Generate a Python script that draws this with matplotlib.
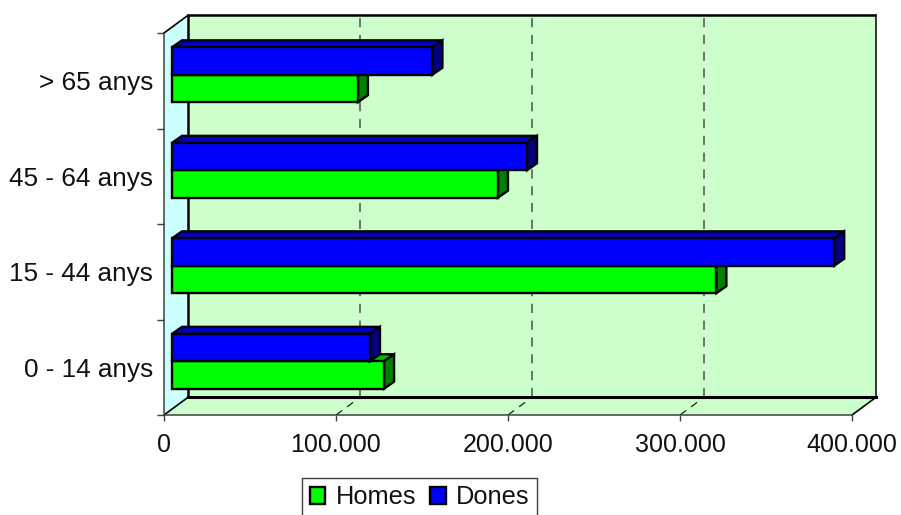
import matplotlib
matplotlib.use("Agg")
import matplotlib.pyplot as plt
from matplotlib.patches import Polygon, Patch
from matplotlib.transforms import Affine2D

categories = ["0 - 14 anys", "15 - 44 anys", "45 - 64 anys", "> 65 anys"]
homes = [123300, 316500, 189500, 108100]
dones = [115100, 385000, 206400, 151400]
x_ticks = [0, 100000, 200000, 300000, 400000]
x_labels = ["0", "100.000", "200.000", "300.000", "400.000"]

plt.rcParams["font.family"] = ["Liberation Sans", "DejaVu Sans"]
W, H = 901, 515
fig = plt.figure(figsize=(W / 100, H / 100), dpi=100, facecolor="white")
ax = fig.add_axes([164 / W, (H - 415) / H, 688 / W, 382 / H])
ax.set_xlim(0, 400000)
ax.set_ylim(0, 4)
ax.patch.set_visible(False)

XMAX, YMAX = 400000, 4
base = ax.transData


def shift(dx, dy):
    return base + Affine2D().translate(dx, dy)


WALL = (24, 17.7)
back = shift(*WALL)
INK = "#000000"
GRAY = "#404040"

# walls and floor
ax.add_patch(Polygon([(0, 0), (XMAX, 0), (XMAX, YMAX), (0, YMAX)], closed=True,
                     transform=back, fc="#CCFFCC", ec="none", clip_on=False, zorder=1))
side = [base.transform((0, 0)), base.transform((0, YMAX)),
        back.transform((0, YMAX)), back.transform((0, 0))]
ax.add_patch(Polygon(side, closed=True, transform=None, fc="#CCFFFF", ec="none",
                     clip_on=False, zorder=1))
floor = [base.transform((0, 0)), base.transform((XMAX, 0)),
         back.transform((XMAX, 0)), back.transform((0, 0))]
ax.add_patch(Polygon(floor, closed=True, transform=None, fc="#CCFFCC", ec="none",
                     clip_on=False, zorder=1))

# gridlines
for v in x_ticks[1:-1]:
    ax.plot([v, v], [0, YMAX], transform=back, color="#505050", lw=1.1,
            ls=(0, (6, 5)), clip_on=False, zorder=2)
    p0, p1 = base.transform((v, 0)), back.transform((v, 0))
    ax.plot([p0[0], p1[0]], [p0[1], p1[1]], transform=None, color="#202020", lw=0.9,
            ls=(0, (6, 5)), clip_on=False, zorder=2)

# wall outlines
ax.plot([0, 0, XMAX], [0, YMAX, YMAX], transform=back, color=INK, lw=1.8,
        clip_on=False, zorder=3, solid_joinstyle="miter", solid_capstyle="butt")
ax.plot([0, XMAX], [0, 0], transform=back, color=INK, lw=2.2, clip_on=False, zorder=3)
ax.plot([XMAX, XMAX], [0, YMAX], transform=back, color=INK, lw=1.1, clip_on=False, zorder=3)
for yv, xv in [(0, 0), (YMAX, 0), (0, XMAX)]:
    p0, p1 = base.transform((xv, yv)), back.transform((xv, yv))
    ax.plot([p0[0], p1[0]], [p0[1], p1[1]], transform=None, color=INK, lw=1.2,
            clip_on=False, zorder=3)

# 3-D bars
FRONT = (8, 6)
DEPTH = (10, 7)
BAR_H = 0.287
GAP = (1 - 2 * BAR_H) / 2


def bar3d(y0, v, front_c, top_c, side_c, z):
    y1 = y0 + BAR_H
    ft = shift(*FRONT)
    bk = shift(FRONT[0] + DEPTH[0], FRONT[1] + DEPTH[1])
    pt = lambda tr, xv, yv: tr.transform((xv, yv))
    style = dict(transform=None, ec=INK, lw=1.7, clip_on=False, zorder=z, joinstyle="miter")
    ax.add_patch(Polygon([pt(ft, 0, y1), pt(ft, v, y1), pt(bk, v, y1), pt(bk, 0, y1)],
                         closed=True, fc=top_c, **style))
    ax.add_patch(Polygon([pt(ft, v, y0), pt(ft, v, y1), pt(bk, v, y1), pt(bk, v, y0)],
                         closed=True, fc=side_c, **style))
    ax.add_patch(Polygon([pt(ft, 0, y0), pt(ft, v, y0), pt(ft, v, y1), pt(ft, 0, y1)],
                         closed=True, fc=front_c, **style))


z = 5
for i in range(len(categories)):
    bar3d(i + GAP, homes[i], "#00FF00", "#00C000", "#008000", z)
    bar3d(i + GAP + BAR_H, dones[i], "#0000FF", "#0000C0", "#000080", z + 1)
    z += 2

# axes
for s in ["top", "right"]:
    ax.spines[s].set_visible(False)
for s in ["left", "bottom"]:
    ax.spines[s].set_color(GRAY)
    ax.spines[s].set_linewidth(1.1)
    ax.spines[s].set_zorder(4)

ax.set_xticks(x_ticks)
ax.set_xticklabels(x_labels, fontsize=18, color="#111111")
ax.set_yticks(range(5))
ax.set_yticklabels([])
ax.set_yticks([i + 0.5 for i in range(4)], minor=True)
ax.set_yticklabels(categories, minor=True, fontsize=18.8, color="#111111")
ax.tick_params(axis="x", length=4.5, width=1, color=GRAY, pad=8.5)
ax.tick_params(axis="y", which="major", length=5, width=1, color=GRAY)
ax.tick_params(axis="y", which="minor", length=0, pad=8)

handles = [Patch(fc="#00FF00", ec=INK, lw=1.7), Patch(fc="#0000FF", ec=INK, lw=1.7)]
leg = fig.legend(handles, ["Homes", "Dones"], loc="lower left", ncols=2,
                 bbox_to_anchor=(302 / W, -2 / H), borderaxespad=0, fontsize=18.3,
                 frameon=True, fancybox=False, edgecolor=GRAY, framealpha=1,
                 handlelength=0.62, handleheight=0.62, handletextpad=0.4,
                 columnspacing=0.55, borderpad=0.3, labelspacing=0)
leg.get_frame().set_linewidth(1.0)
for t in leg.get_texts():
    t.set_color("#111111")

fig.savefig("out.png", dpi=100)
